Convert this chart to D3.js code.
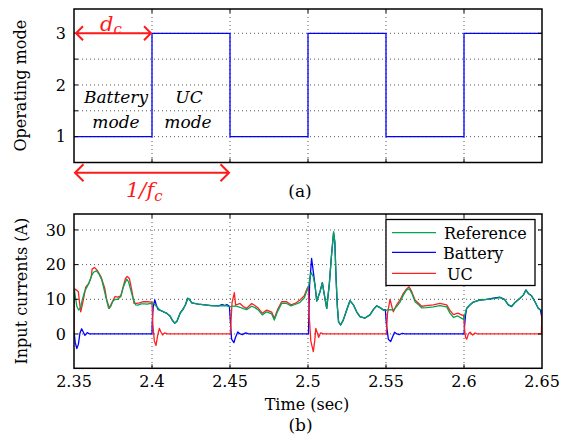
<!DOCTYPE html>
<html>
<head>
<meta charset="utf-8">
<script src="https://cdn.jsdelivr.net/npm/d3@7"></script>
<style>
  body { margin: 0; background: #fff; }
  svg { display: block; font-family: "DejaVu Serif", serif; }
</style>
</head>
<body>
<div id="chart"></div>
<script>
// ---- (a) operating mode ----
const modeTime = [2.35, 2.40, 2.45, 2.50, 2.55, 2.60, 2.65];
const modeValue = [1, 3, 1, 3, 1, 3, 3];

// ---- (b) input currents ----
const refTime = [
  2.35, 2.3508, 2.3518, 2.353, 2.3542, 2.3552, 2.3565, 2.358, 2.3595, 2.361,
  2.3625, 2.3645, 2.366, 2.3678, 2.3692, 2.3705, 2.3722, 2.3735, 2.375, 2.3765,
  2.378, 2.38, 2.3818, 2.3838, 2.385, 2.3865, 2.388, 2.3895, 2.391, 2.393,
  2.395, 2.397, 2.399, 2.40, 2.401, 2.403, 2.405, 2.4073, 2.4094, 2.4115,
  2.413, 2.4145, 2.416, 2.418, 2.42, 2.4215, 2.4229, 2.424, 2.4255, 2.4297,
  2.434, 2.438, 2.4425, 2.4468, 2.45, 2.4536, 2.4564, 2.4585, 2.4607, 2.4639,
  2.466, 2.4682, 2.4707, 2.4735, 2.4767, 2.4784, 2.4806, 2.4831, 2.4863, 2.4891,
  2.4917, 2.4949, 2.4976, 2.4995, 2.5005, 2.5013, 2.502, 2.5034, 2.5045, 2.5056,
  2.5077, 2.5092, 2.5102, 2.512, 2.5137, 2.515, 2.5164, 2.5172, 2.518, 2.5188,
  2.5196, 2.5209, 2.5226, 2.5248, 2.5269, 2.5291, 2.5312, 2.5333, 2.5365, 2.5397,
  2.542, 2.544, 2.5462, 2.5483, 2.55, 2.5526, 2.5547, 2.5568, 2.559, 2.5611,
  2.5632, 2.565, 2.5665, 2.5686, 2.5705, 2.5729, 2.576, 2.5803, 2.5846, 2.5889,
  2.591, 2.5932, 2.596, 2.5985, 2.5998, 2.6017, 2.6039, 2.606, 2.6103, 2.6146,
  2.6188, 2.6231, 2.626, 2.6284, 2.6305, 2.6325, 2.6359, 2.638, 2.6397, 2.6412,
  2.6433, 2.6455, 2.6476, 2.65
];
const refCurrent = [
  13.2, 11, 8.0, 6.9, 7.6, 9.6, 11.8, 13.3, 14.6, 16.5,
  17.8, 18.2, 17.3, 15.6, 13, 10.5, 7.4, 7.9, 9.5, 10,
  10, 10.8, 13.8, 15.8, 15, 12.5, 10, 8.4, 8.3, 8.7,
  8.7, 8.6, 8.8, 8.6, 8.8, 7.9, 6.9, 6.4, 6.0, 5.2,
  4.0, 3.1, 3.7, 6.0, 7.2, 8.5, 10.3, 10.0, 9.0, 8.6,
  8.4, 8.2, 8.1, 8.2, 7.9, 8.1, 7.7, 7.3, 7.0, 8.0,
  7.6, 6.9, 5.5, 6.4, 5.8, 4.0, 6.6, 8.8, 8.8, 8.1,
  8.5, 9.1, 10.4, 12.8, 14, 16.5, 17.7, 16.5, 14, 9.5,
  12.2, 14.8, 12, 7.4, 14.6, 22.3, 29.5, 26.5, 16, 8,
  3.5, 2.6, 4.0, 6.9, 9.6, 8.4, 6.4, 5.0, 4.6, 5.5,
  7.1, 8.1, 7.6, 6.9, 6.9, 7.0, 6.9, 7.9, 9.2, 11.2,
  12.7, 13.0, 11.8, 9.3, 8.6, 7.5, 7.6, 7.8, 8.2, 7.8,
  6.0, 4.8, 5.2, 4.5, 4.2, 7.5, 8.4, 9.2, 9.8, 10.0,
  10.2, 10.5, 9.9, 8.4, 8.0, 9.0, 10.3, 11.2, 12.6, 11.7,
  11, 9.3, 7.4, 6.8
];

const batTime = [
  2.35, 2.3508, 2.3518, 2.3528, 2.3538, 2.3549, 2.356, 2.357, 2.3585, 2.36,
  2.40, 2.4001, 2.4008, 2.4018, 2.4028, 2.404, 2.4055, 2.4073, 2.4094, 2.4115,
  2.413, 2.4145, 2.416, 2.418, 2.42, 2.4215, 2.4229, 2.424, 2.4255, 2.4297,
  2.434, 2.438, 2.4425, 2.445, 2.4468, 2.448, 2.4496, 2.4502, 2.451, 2.4525,
  2.4535, 2.455, 2.4565, 2.458, 2.46, 2.462, 2.5003, 2.501, 2.5023, 2.5034,
  2.5045, 2.5056, 2.5077, 2.5092, 2.5102, 2.512, 2.5137, 2.515, 2.5164, 2.5172,
  2.518, 2.5188, 2.5196, 2.5209, 2.5226, 2.5248, 2.5269, 2.5291, 2.5312, 2.5333,
  2.5365, 2.5397, 2.542, 2.544, 2.5462, 2.5483, 2.5496, 2.5502, 2.5515, 2.553,
  2.5545, 2.5555, 2.557, 2.5585, 2.5605, 2.562, 2.60, 2.6005, 2.601, 2.6017,
  2.6039, 2.606, 2.6103, 2.6146, 2.6188, 2.6231, 2.626, 2.6284, 2.6305, 2.6325,
  2.6359, 2.638, 2.6397, 2.6412, 2.6433, 2.6455, 2.6476, 2.649, 2.6498, 2.65
];
const batCurrent = [
  0.8, -2.5, -4.2, -3.0, 0.2, 1.5, 0.5, -0.4, 0.4, 0,
  0, 3, 8, 9.8, 8.3, 7.0, 6.8, 6.4, 6.0, 5.2,
  4.0, 3.1, 3.7, 6.0, 7.2, 8.5, 10.3, 10.0, 9.0, 8.6,
  8.4, 8.2, 8.1, 8.5, 8.2, 8.5, 8.0, 4, -1.5, -2.5,
  -1.0, 0.6, 0, -0.2, 0.3, 0, 0, 14, 21.8, 18,
  14, 9.5, 12.2, 14.8, 12, 7.4, 14.6, 22.3, 29.2, 26.5,
  16, 8, 3.5, 2.6, 4.0, 6.9, 9.6, 8.4, 6.4, 5.0,
  4.6, 5.5, 7.1, 8.1, 7.6, 6.9, 7.0, 3, -1.5, -2.2,
  -0.5, 0.5, 0, -0.2, 0.2, 0, 0, 3, 5.5, 7.3,
  8.4, 9.2, 9.8, 10.0, 10.3, 10.6, 10.0, 8.4, 7.9, 9.0,
  10.3, 11.2, 12.7, 11.7, 11, 9.3, 7.4, 6.9, 5.0, 4.5
];

const ucTime = [
  2.35, 2.3503, 2.351, 2.3528, 2.3536, 2.3543, 2.356, 2.3575, 2.3595, 2.361,
  2.3616, 2.3631, 2.365, 2.3673, 2.3697, 2.371, 2.3727, 2.374, 2.3763, 2.378,
  2.38, 2.3818, 2.383, 2.3841, 2.3855, 2.387, 2.3885, 2.39, 2.392, 2.3945,
  2.397, 2.3995, 2.40, 2.4005, 2.4015, 2.4026, 2.4036, 2.4047, 2.4058, 2.4068,
  2.408, 2.41, 2.4502, 2.4513, 2.4528, 2.4536, 2.4553, 2.4564, 2.4585, 2.4607,
  2.4639, 2.466, 2.4682, 2.4707, 2.4735, 2.4767, 2.4784, 2.4806, 2.4831, 2.4863,
  2.4891, 2.4917, 2.4949, 2.4976, 2.4995, 2.5002, 2.5008, 2.5018, 2.5034, 2.5043,
  2.505, 2.506, 2.5068, 2.508, 2.51, 2.5502, 2.551, 2.5526, 2.554, 2.5547,
  2.5568, 2.559, 2.5611, 2.5632, 2.5648, 2.5665, 2.5686, 2.5705, 2.5729, 2.576,
  2.5803, 2.5846, 2.5889, 2.591, 2.5932, 2.596, 2.5985, 2.5998, 2.6002, 2.601,
  2.6017, 2.6028, 2.6039, 2.6055, 2.607, 2.6085, 2.6496, 2.65
];
const ucCurrent = [
  0, 12.5, 12.9, 12.2, 8.8, 6.4, 9.8, 13.5, 14.6, 16.3,
  18.7, 19.2, 18.3, 16.5, 13.2, 9.8, 7.4, 8.8, 10.8, 10.6,
  11, 14.1, 16, 16.6, 16, 12.7, 8.8, 8.8, 9.0, 9.3,
  9.3, 9.2, 9.3, 3, -2, -3.3, -0.5, 1.6, 0.5, -0.3,
  0.3, 0, 0, 9, 11.9, 8.4, 8.6, 8.8, 7.9, 7.4,
  8.8, 8.2, 7.4, 6.0, 6.9, 6.3, 4.5, 7.1, 9.3, 9.3,
  8.4, 8.8, 9.8, 11, 13.2, 13.5, 5, -2, -5.1, -2,
  1.6, 0.3, -1, 0.3, 0, 0, 6, 10, 7.5, 6.4,
  8.4, 9.8, 11.7, 13.0, 13.6, 12.2, 9.8, 9.0, 8.0, 8.2,
  8.4, 8.8, 8.4, 6.8, 5.6, 6.0, 5.5, 5.3, 2, -1.0,
  -1.5, 0, 0.5, -0.3, 0.3, 0, 0, 7
];

const timeTicks = [2.35, 2.40, 2.45, 2.50, 2.55, 2.60, 2.65];
const modeTicks = [1, 1.5, 2, 2.5, 3];
const modeLabels = [1, 2, 3];
const currentTicks = [0, 10, 20, 30];
const seriesNames = ["Reference", "Battery", "UC"];
const seriesColors = ["#00a651", "#0000ff", "#ff2020"];

// ---- layout ----
const width = 562, height = 445;
const plotLeft = 74, plotRight = 542;
const boxA = { top: 9, bottom: 162.5 };
const boxB = { top: 214, bottom: 368.3 };

const svg = d3.select("#chart").append("svg")
    .attr("width", width)
    .attr("height", height);

const x = d3.scaleLinear().domain([2.35, 2.65]).range([plotLeft, plotRight]);
const yMode = d3.scaleLinear().domain([0.5, 3.47]).range([boxA.bottom, boxA.top]);
const yCur = d3.scaleLinear().domain([-9.9, 34.6]).range([boxB.bottom, boxB.top]);

function drawGrid(g, y, box, yTicks) {
    g.selectAll(".vgrid")
        .data(timeTicks.slice(1, -1))
        .enter().append("line")
        .attr("x1", d => x(d)).attr("x2", d => x(d))
        .attr("y1", box.top).attr("y2", box.bottom)
        .attr("stroke", "#444").attr("stroke-width", 0.9)
        .attr("stroke-dasharray", "1,3");
    g.selectAll(".hgrid")
        .data(yTicks)
        .enter().append("line")
        .attr("x1", plotLeft).attr("x2", plotRight)
        .attr("y1", d => y(d)).attr("y2", d => y(d))
        .attr("stroke", "#444").attr("stroke-width", 0.9)
        .attr("stroke-dasharray", "1,3");
}

function drawFrame(g, y, box, yTicks) {
    // inward ticks on all four sides
    const tl = 4;
    timeTicks.slice(1, -1).forEach(t => {
        g.append("line").attr("x1", x(t)).attr("x2", x(t))
            .attr("y1", box.bottom).attr("y2", box.bottom - tl).attr("stroke", "#000");
        g.append("line").attr("x1", x(t)).attr("x2", x(t))
            .attr("y1", box.top).attr("y2", box.top + tl).attr("stroke", "#000");
    });
    yTicks.forEach(v => {
        g.append("line").attr("x1", plotLeft).attr("x2", plotLeft + tl)
            .attr("y1", y(v)).attr("y2", y(v)).attr("stroke", "#000");
        g.append("line").attr("x1", plotRight).attr("x2", plotRight - tl)
            .attr("y1", y(v)).attr("y2", y(v)).attr("stroke", "#000");
    });
    g.append("rect")
        .attr("x", plotLeft).attr("y", box.top)
        .attr("width", plotRight - plotLeft).attr("height", box.bottom - box.top)
        .attr("fill", "none").attr("stroke", "#000").attr("stroke-width", 1.5);
}

// ---- panel (a) ----
const gA = svg.append("g");
drawGrid(gA, yMode, boxA, modeTicks);

const modeLine = d3.line()
    .x(d => x(d[0]))
    .y(d => yMode(d[1]))
    .curve(d3.curveStepAfter);

gA.append("path")
    .datum(d3.zip(modeTime, modeValue))
    .attr("d", modeLine)
    .attr("fill", "none")
    .attr("stroke", "#0000ff")
    .attr("stroke-width", 1.3);

drawFrame(gA, yMode, boxA, modeTicks);

gA.selectAll(".ylab")
    .data(modeLabels)
    .enter().append("text")
    .attr("x", 66).attr("y", d => yMode(d))
    .attr("dy", "0.36em")
    .attr("text-anchor", "end")
    .attr("font-size", 16)
    .text(d => d);

svg.append("text")
    .attr("transform", "translate(26," + ((boxA.top + boxA.bottom) / 2) + ") rotate(-90)")
    .attr("text-anchor", "middle")
    .attr("font-size", 16)
    .text("Operating mode");

// mode annotations
const italic = svg.append("g").attr("font-style", "italic").attr("font-size", 17).attr("text-anchor", "middle");
italic.append("text").attr("x", 116).attr("y", 103).text("Battery");
italic.append("text").attr("x", 116).attr("y", 128).text("mode");
italic.append("text").attr("x", 189).attr("y", 103).text("UC");
italic.append("text").attr("x", 188).attr("y", 128).text("mode");

function doubleArrow(x0, x1, y, head) {
    const p = d3.path();
    p.moveTo(x0, y); p.lineTo(x1, y);
    p.moveTo(x0 + head, y - head); p.lineTo(x0, y); p.lineTo(x0 + head, y + head);
    p.moveTo(x1 - head, y - head); p.lineTo(x1, y); p.lineTo(x1 - head, y + head);
    svg.append("path").attr("d", p.toString())
        .attr("fill", "none").attr("stroke", "#ff1a1a").attr("stroke-width", 2);
}
doubleArrow(x(2.35) + 2, x(2.40) - 1, yMode(3), 7);
doubleArrow(x(2.35) + 1, x(2.45) - 1, 172.7, 8.5);

const dc = svg.append("text").attr("x", 100).attr("y", 30.5)
    .attr("fill", "#ff1a1a").attr("font-style", "italic").attr("font-size", 21);
dc.append("tspan").text("d");
dc.append("tspan").attr("font-size", 15).attr("dy", 3).text("c");

const fc = svg.append("text").attr("x", 126).attr("y", 196.5)
    .attr("fill", "#ff1a1a").attr("font-style", "italic").attr("font-size", 21);
fc.append("tspan").text("1/f");
fc.append("tspan").attr("font-size", 15).attr("dy", 4).text("c");

svg.append("text").attr("x", 300).attr("y", 197)
    .attr("text-anchor", "middle").attr("font-size", 17).text("(a)");

// ---- panel (b) ----
const gB = svg.append("g");
drawGrid(gB, yCur, boxB, currentTicks);

svg.append("clipPath").attr("id", "clipB")
    .append("rect")
    .attr("x", plotLeft).attr("y", boxB.top)
    .attr("width", plotRight - plotLeft).attr("height", boxB.bottom - boxB.top);

const curLine = d3.line()
    .x(d => x(d[0]))
    .y(d => yCur(d[1]));

const series = [
    { name: "Battery", data: d3.zip(batTime, batCurrent), color: seriesColors[1] },
    { name: "UC", data: d3.zip(ucTime, ucCurrent), color: seriesColors[2] },
    { name: "Reference", data: d3.zip(refTime, refCurrent), color: seriesColors[0] }
];

gB.append("g").attr("clip-path", "url(#clipB)")
    .selectAll("path")
    .data(series)
    .enter().append("path")
    .attr("d", d => curLine(d.data))
    .attr("fill", "none")
    .attr("stroke", d => d.color)
    .attr("stroke-width", 1.3)
    .attr("stroke-linejoin", "round");

drawFrame(gB, yCur, boxB, currentTicks);

gB.selectAll(".ylab")
    .data(currentTicks)
    .enter().append("text")
    .attr("x", 66).attr("y", d => yCur(d))
    .attr("dy", "0.36em")
    .attr("text-anchor", "end")
    .attr("font-size", 16)
    .text(d => d);

gB.selectAll(".xlab")
    .data(timeTicks)
    .enter().append("text")
    .attr("x", d => x(d)).attr("y", 387)
    .attr("text-anchor", "middle")
    .attr("font-size", 16)
    .text(d => d3.format(".2~f")(d));

svg.append("text")
    .attr("transform", "translate(27," + ((boxB.top + boxB.bottom) / 2) + ") rotate(-90)")
    .attr("text-anchor", "middle")
    .attr("font-size", 16)
    .text("Input currents (A)");

svg.append("text").attr("x", 307).attr("y", 410)
    .attr("text-anchor", "middle").attr("font-size", 16).text("Time (sec)");
svg.append("text").attr("x", 300.5).attr("y", 431)
    .attr("text-anchor", "middle").attr("font-size", 17).text("(b)");

// legend
const legend = svg.append("g");
legend.append("rect")
    .attr("x", 386).attr("y", 219.5).attr("width", 149).attr("height", 66)
    .attr("fill", "#fff").attr("stroke", "#000").attr("stroke-width", 1.3);
const legRows = legend.selectAll(".row")
    .data(seriesNames)
    .enter().append("g")
    .attr("transform", (d, i) => "translate(0," + [232.7, 252.3, 273.3][i] + ")");
legRows.append("line")
    .attr("x1", 392).attr("x2", 436)
    .attr("stroke", (d, i) => seriesColors[i])
    .attr("stroke-width", 1.2);
legRows.append("text")
    .attr("x", (d, i) => [444, 443, 447][i])
    .attr("y", 6.5)
    .attr("font-size", 16)
    .text(d => d);
</script>
</body>
</html>
